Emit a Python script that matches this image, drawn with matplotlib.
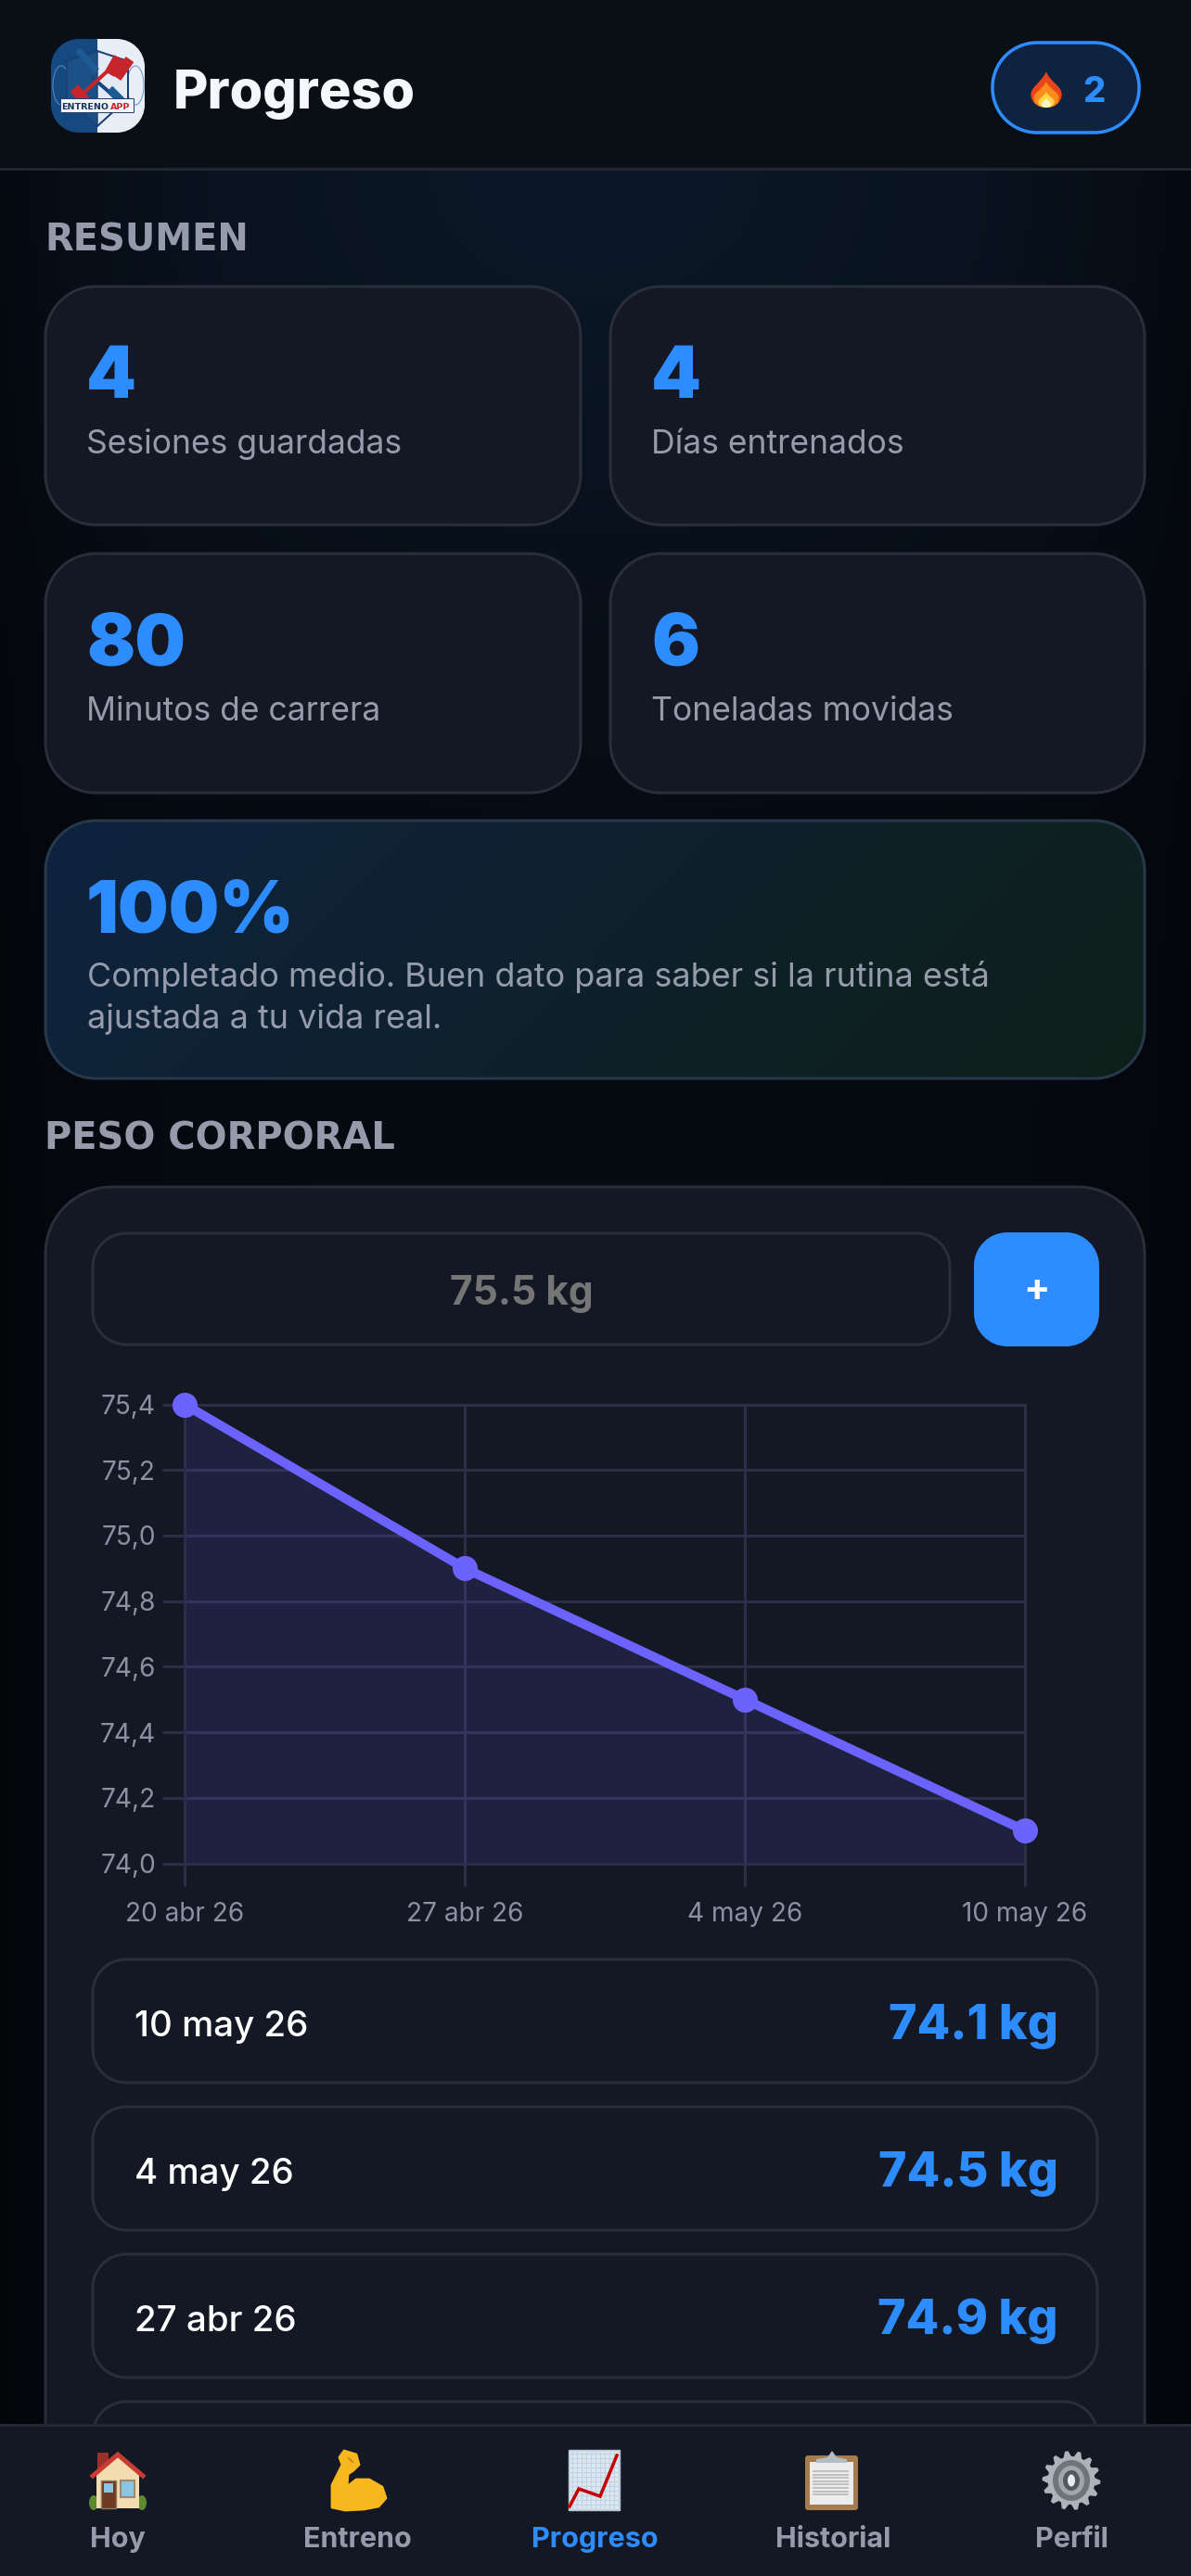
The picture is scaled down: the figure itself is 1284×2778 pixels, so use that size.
import numpy as np
import matplotlib
matplotlib.use("Agg")
import matplotlib.pyplot as plt
from matplotlib.patches import Polygon, Rectangle, Ellipse, PathPatch
from matplotlib.path import Path

# ---- data ----
dates = ["20 abr 26", "27 abr 26", "4 may 26", "10 may 26"]
weights = [75.4, 74.9, 74.5, 74.1]
y_ticks = [74.0, 74.2, 74.4, 74.6, 74.8, 75.0, 75.2, 75.4]
stat_values = ["4", "4", "80", "6"]
stat_labels = ["Sesiones guardadas", "Días entrenados", "Minutos de carrera", "Toneladas movidas"]
history_dates = ["10 may 26", "4 may 26", "27 abr 26"]
history_values = ["74.1 kg", "74.5 kg", "74.9 kg"]
nav_labels = ["Hoy", "Entreno", "Progreso", "Historial", "Perfil"]

# ---- colours ----
BLUE = "#2d8cff"; CARD = "#141824"; EDGE = "#2a2e3a"; MUTED = "#959bab"
PURPLE = "#6c63ff"; GRID = "#2b2e47"; TICK = "#8b90a3"
FONT = "Inter"
PX = 0.72
plt.rcParams["font.family"] = [FONT, "DejaVu Sans"]

fig = plt.figure(figsize=(12.84, 27.78), dpi=100, facecolor="#05080f")
ax = fig.add_axes([0, 0, 1, 1], zorder=0)
ax.set_xlim(0, 1284); ax.set_ylim(2778, 0); ax.axis("off")

# page background glow
yy, xx = np.mgrid[0:2778:6, 0:1284:6]
glow = np.exp(-(((xx - 640) / 640.0) ** 2 + ((yy - 180) / 500.0) ** 2))
edge = np.clip(np.abs(xx - 642) / 642.0, 0, 1) ** 6
base = np.array([6, 10, 17]) / 255.0
top = np.array([11, 23, 38]) / 255.0
img = base[None, None, :] * (1 - 0.45 * edge[..., None]) + (top - base)[None, None, :] * glow[..., None]
ax.imshow(np.clip(img, 0, 1), extent=(0, 1284, 2778, 0), aspect="auto", zorder=0, interpolation="bilinear")
ax.set_xlim(0, 1284); ax.set_ylim(2778, 0)

K = 0.5523
def rr_path(x0, y0, x1, y1, r):
    k = r * (1 - K)
    v = [(x0 + r, y0), (x1 - r, y0), (x1 - k, y0), (x1, y0 + k), (x1, y0 + r), (x1, y1 - r),
         (x1, y1 - k), (x1 - k, y1), (x1 - r, y1), (x0 + r, y1), (x0 + k, y1), (x0, y1 - k), (x0, y1 - r),
         (x0, y0 + r), (x0, y0 + k), (x0 + k, y0), (x0 + r, y0), (x0 + r, y0)]
    c = [Path.MOVETO, Path.LINETO, Path.CURVE4, Path.CURVE4, Path.CURVE4, Path.LINETO,
         Path.CURVE4, Path.CURVE4, Path.CURVE4, Path.LINETO, Path.CURVE4, Path.CURVE4, Path.CURVE4,
         Path.LINETO, Path.CURVE4, Path.CURVE4, Path.CURVE4, Path.CLOSEPOLY]
    return Path(v, c)

def box(x0, y0, x1, y1, r, fc=CARD, ec=EDGE, lw=3, z=1):
    p = PathPatch(rr_path(x0, y0, x1, y1, r), fc=fc, ec=ec, lw=lw * PX, zorder=z)
    ax.add_patch(p)
    return p

def T(x, y, s, px, color="white", weight="normal", ha="left", z=5, family=None):
    return ax.text(x, y, s, fontsize=px * PX, color=color, fontweight=weight, ha=ha, va="baseline",
                   zorder=z, family=family or [FONT, "DejaVu Sans"])

# header
ax.add_patch(Rectangle((0, 0), 1284, 180, fc="#0a0e15", ec="none", zorder=1))
ax.plot([0, 1284], [181.5, 181.5], color="#22262e", lw=3 * PX, zorder=2)
T(187, 117, "Progreso", 57.5, weight="heavy", color="#f6f7fb")

# logo
clip_logo = box(55, 42, 156, 143, 30, fc="none", ec="none", z=3)
def clipped(p):
    ax.add_patch(p); p.set_clip_path(clip_logo); return p
clipped(Rectangle((55, 42), 50, 101, fc="#15497f", ec="none", zorder=3))
clipped(Rectangle((105, 42), 51, 101, fc="#e9eef6", ec="none", zorder=3))
for cx in (66, 146):
    clipped(Ellipse((cx, 92), 18, 42, fc="none", ec="#5f8fc4", lw=0.7, zorder=3))
ax.add_patch(Polygon([(72, 66), (105, 55), (138, 66), (138, 106), (105, 136), (72, 106)], closed=True,
                     fc="#e4eaf3", ec="#1b3f74", lw=2 * PX, zorder=3))
ax.add_patch(Polygon([(72, 66), (105, 55), (105, 136), (72, 106)], closed=True, fc="#1c5187", ec="#1b3f74", lw=1, zorder=3))
ax.plot([100, 128], [84, 108], color="#18467c", lw=4 * PX, zorder=3)
ax.plot([86, 102], [56, 74], color="#1e5a94", lw=7 * PX, zorder=3)
ax.plot([88, 121], [102, 72], color="#c8242c", lw=4 * PX, zorder=3)
for (a, b, w) in [((118, 80), (128, 62), 9), ((126, 84), (140, 64), 8), ((80, 95), (94, 112), 9), ((118, 96), (132, 110), 7)]:
    ax.plot([a[0], b[0]], [a[1], b[1]], color="#1e5a94" if w == 7 else "#c8242c", lw=w * PX * 1.3, zorder=3, solid_capstyle="butt")
ax.add_patch(Rectangle((65, 106), 79, 15, fc="#f2f5fa", ec="#1b3f74", lw=0.7, zorder=3))
NARROW = ["Liberation Sans Narrow", "DejaVu Sans"]
T(66, 118, "ENTRENO", 9.5, color="#16345f", weight="bold", z=4, family=NARROW)
T(119, 118, "APP", 9.5, color="#c8242c", weight="bold", z=4, family=NARROW)

# streak badge
box(1070, 46, 1228, 143, 48, fc="#0e2340", ec=BLUE, lw=3.5, z=3)
def flame(cx, top_y, bot_y, w, color, z=4):
    h = bot_y - top_y
    v = [(cx, top_y), (cx + w * 0.1, top_y + h * 0.3), (cx + w * 0.55, top_y + h * 0.4), (cx + w * 0.5, top_y + h * 0.68),
         (cx + w * 0.45, top_y + h * 0.93), (cx + w * 0.2, bot_y), (cx, bot_y),
         (cx - w * 0.2, bot_y), (cx - w * 0.45, top_y + h * 0.93), (cx - w * 0.5, top_y + h * 0.68),
         (cx - w * 0.55, top_y + h * 0.45), (cx - w * 0.15, top_y + h * 0.3), (cx, top_y)]
    codes = [Path.MOVETO] + [Path.CURVE4] * 12
    ax.add_patch(PathPatch(Path(v, codes), fc=color, ec="none", zorder=z))
flame(1128, 77, 116, 33, "#e8461a")
flame(1128, 88, 116, 27, "#fb8c1a", 4.1)
flame(1128, 99, 116, 17, "#ffd84a", 4.2)
flame(1128, 106, 116, 10, "#fff3c4", 4.3)
T(1179, 110, "2", 38, color=BLUE, weight="heavy", ha="center")

# section titles
DV = ["DejaVu Sans"]
T(48, 270.5, "RESUMEN", 40, color=MUTED, weight="bold", family=DV)
T(48, 1239.5, "PESO CORPORAL", 40, color=MUTED, weight="bold", family=DV)

# stat cards
card_x = [(49, 626), (658, 1234)]
card_y = [(309, 566), (597, 855)]
for i in range(4):
    (x0, x1), (y0, y1) = card_x[i % 2], card_y[i // 2]
    box(x0, y0, x1, y1, 54)
    T(x0 + 44, y0 + 120, stat_values[i], 77, color=BLUE, weight="black")
    T(x0 + 44, y0 + 180, stat_labels[i], 35.5, color=MUTED)

# hero card
hero = box(49, 885, 1234, 1163, 54, fc="none", ec="#26394a", z=2)
c0, c1 = np.array([15, 35, 64]) / 255.0, np.array([13, 31, 24]) / 255.0
yh, xh = np.mgrid[0:278:2, 0:1185:4]
tt = ((xh + yh) / (1185.0 + 278.0))[..., None]
im = ax.imshow(c0 * (1 - tt) + c1 * tt, extent=(49, 1234, 1163, 885), aspect="auto", zorder=1, interpolation="bilinear")
im.set_clip_path(hero)
ax.set_xlim(0, 1284); ax.set_ylim(2778, 0)
T(93, 1005, "100%", 77, color=BLUE, weight="black")
T(93.5, 1064, "Completado medio. Buen dato para saber si la rutina está", 36, color=MUTED)
T(93.5, 1109, "ajustada a tu vida real.", 36, color=MUTED)

# weight card
box(49, 1280, 1234, 2900, 72, z=1)
box(100, 1330, 1024, 1450, 36, fc="none", z=2)
T(562, 1406.5, "75.5 kg", 42.5, color="#757575", weight="bold", ha="center")
box(1050, 1329, 1185, 1452, 36, fc=BLUE, ec="none", z=2)
T(1117.5, 1403, "+", 42, color="white", weight="bold", ha="center")

# history rows
row_y = [(2113, 2246), (2272, 2405), (2431, 2564)]
for (y0, y1), d, v in zip(row_y, history_dates, history_values):
    box(100, y0, 1183, y1, 36, z=2)
    T(145, y0 + 83, d, 38.5, color="white", weight="medium")
    T(1141, y0 + 86, v, 52, color=BLUE, weight="heavy", ha="right")
box(100, 2590, 1183, 2750, 36, z=2)

# bottom navigation
ax.add_patch(Rectangle((0, 2614), 1284, 164, fc=CARD, ec="none", zorder=6))
ax.plot([0, 1284], [2615, 2615], color="#232732", lw=3 * PX, zorder=7)
nav_x = [127, 385, 641, 898, 1155]
for x, s in zip(nav_x, nav_labels):
    T(x, 2747, s, 30.5, color=BLUE if s == "Progreso" else MUTED, weight="bold", ha="center", z=8)

# house icon
Z = 8
ax.add_patch(Rectangle((105, 2645), 12, 30, fc="#9c2f2a", ec="none", zorder=Z))
ax.add_patch(Ellipse((101, 2699), 10, 16, fc="#5c8a2e", ec="none", zorder=Z))
ax.add_patch(Ellipse((153, 2699), 10, 16, fc="#5c8a2e", ec="none", zorder=Z))
ax.add_patch(Rectangle((104, 2668), 46, 37, fc="#f3dcb0", ec="none", zorder=Z))
ax.add_patch(Polygon([(127, 2648), (152, 2668), (102, 2668), (127, 2648)], fc="#f3dcb0", ec="none", zorder=Z))
ax.plot([100, 127, 154], [2670, 2647, 2670], color="#c83c32", lw=5 * PX, zorder=Z, solid_joinstyle="miter")
ax.add_patch(Rectangle((109, 2675), 16, 30, fc="#6e3a22", ec="#8d7a63", lw=1, zorder=Z))
ax.add_patch(Rectangle((112, 2678), 10, 10, fc="#8cc4e4", ec="none", zorder=Z))
ax.add_patch(Rectangle((130, 2675), 15, 18, fc="#8cc4e4", ec="#9d8a70", lw=1.5, zorder=Z))

# arm icon
arm = [(358, 2704), (358, 2680), (364, 2668), (369, 2658), (366, 2650), (371, 2643), (384, 2647), (387, 2658),
       (381, 2664), (375, 2668), (374, 2682), (384, 2674), (398, 2674), (412, 2682), (416, 2694), (408, 2703),
       (392, 2706), (372, 2707), (358, 2704)]
ax.add_patch(Polygon(arm, closed=True, fc="#f7b71e", ec="#f7b71e", lw=2, joinstyle="round", zorder=Z))
ax.plot([376, 380], [2651, 2655], color="#c98a10", lw=1.5, zorder=Z)

# chart icon
ax.add_patch(Rectangle((613, 2642), 55, 65, fc="#dde7ef", ec="#b5c0c8", lw=1, zorder=Z))
for gy in np.arange(2646, 2707, 5):
    ax.plot([613, 668], [gy, gy], color="#bfd3e4", lw=0.8, zorder=Z)
for gx in np.arange(617, 668, 5):
    ax.plot([gx, gx], [2642, 2707], color="#bfd3e4", lw=0.8, zorder=Z)
ax.plot([614, 624, 647, 665], [2703, 2684, 2692, 2648], color="#c40000", lw=3.5 * PX, zorder=Z + 0.1, solid_joinstyle="miter")

# clipboard icon
ax.add_patch(PathPatch(rr_path(868, 2648, 925, 2707, 3), fc="#a67c4e", ec="none", zorder=Z))
ax.add_patch(Rectangle((873, 2655), 47, 46, fc="#ececec", ec="none", zorder=Z))
ax.add_patch(Polygon([(897, 2643), (902, 2650), (913, 2652), (913, 2656), (880, 2656), (880, 2652), (892, 2650)],
                     closed=True, fc="#b4bcc4", ec="none", zorder=Z))
for ly in np.arange(2665, 2693, 3.6):
    ax.plot([877, 914], [ly, ly], color="#b8b8b8", lw=1.2, zorder=Z)

# gear icon
n = 14
ang = np.linspace(0, 2 * np.pi, n * 4, endpoint=False)
rad = np.where(np.arange(n * 4) % 4 < 2, 32, 26)
ax.add_patch(Polygon(np.c_[1155 + rad * np.cos(ang) * 0.98, 2675 + rad * np.sin(ang)], closed=True, fc="#aeb3b9", ec="none", zorder=Z))
ax.add_patch(Ellipse((1155, 2675), 40, 44, fc="#6f747b", ec="none", zorder=Z))
ax.add_patch(Ellipse((1155, 2675), 28, 32, fc="#a0a5ab", ec="none", zorder=Z))
ax.add_patch(Ellipse((1155, 2675), 18, 22, fc="#54585e", ec="none", zorder=Z))
ax.add_patch(Ellipse((1155, 2675), 8, 13, fc="#e8ecf0", ec="none", zorder=Z))

# ---- weight chart ----
L, R, TOP, BOT = 199, 1105, 1514.5, 2009.5
axc = fig.add_axes([L / 1284, (2778 - BOT) / 2778, (R - L) / 1284, (BOT - TOP) / 2778], zorder=2, facecolor="none")
xs = np.arange(len(dates))
axc.set_xlim(0, len(dates) - 1)
axc.set_ylim(y_ticks[0], y_ticks[-1])
axc.set_xticks(xs); axc.set_xticklabels(dates)
axc.set_yticks(y_ticks); axc.set_yticklabels([f"{v:.1f}".replace(".", ",") for v in y_ticks])
axc.grid(True, color=GRID, lw=3 * PX, zorder=1)
axc.set_axisbelow(True)
for s in axc.spines.values():
    s.set_color(GRID); s.set_linewidth(3 * PX)
axc.tick_params(axis="both", length=24 * PX, width=3 * PX, color=GRID, labelcolor=TICK, labelsize=28 * PX, pad=7 * PX)
axc.tick_params(axis="x", pad=17 * PX)
axc.fill_between(xs, weights, y_ticks[0], color=PURPLE, alpha=0.13, lw=0, zorder=2)
axc.plot(xs, weights, color=PURPLE, lw=10 * PX, marker="o", ms=27 * PX, mew=0, clip_on=False, zorder=3)

fig.savefig("out.png", dpi=100, facecolor=fig.get_facecolor())
